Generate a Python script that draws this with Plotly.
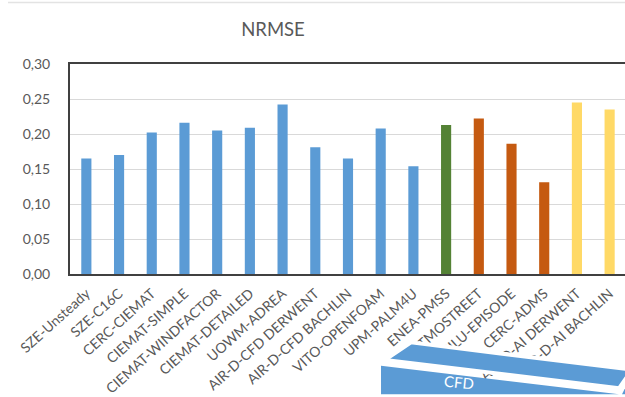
import plotly.graph_objects as go

# Model names and their NRMSE scores
models = [
    "SZE-Unsteady", "SZE-C16C", "CERC-CIEMAT", "CIEMAT-SIMPLE",
    "CIEMAT-WINDFACTOR", "CIEMAT-DETAILED", "UOWM-ADREA",
    "AIR-D-CFD DERWENT", "AIR-D-CFD BACHLIN", "VITO-OPENFOAM",
    "UPM-PALM4U", "ENEA-PMSS", "ATMOSTREET", "NILU-EPISODE",
    "CERC-ADMS", "AIR-D-AI DERWENT", "AIR-D-AI BACHLIN",
]
nrmse = [
    0.165, 0.170, 0.202, 0.216, 0.205, 0.209, 0.242, 0.181, 0.165,
    0.208, 0.154, 0.213, 0.222, 0.186, 0.131, 0.245, 0.235,
]
# model family for each bar: CFD, Lagrangian, street/Gaussian, AI
families = ["cfd"] * 11 + ["lagr"] + ["gauss"] * 3 + ["ai"] * 2
family_colors = {
    "cfd": "#5b9bd5",
    "lagr": "#548235",
    "gauss": "#c55a11",
    "ai": "#ffd966",
}
y_ticks = [0.00, 0.05, 0.10, 0.15, 0.20, 0.25, 0.30]

W, H = 625, 397
L, R, T, B = 70, 0, 64, 118
PW, PH = W - L - R, H - T - B


def px(x, y):
    """Pixel position on the page -> paper coordinates."""
    return (x - L) / PW, (H - B - y) / PH


def poly(points, color, line_color="rgba(0,0,0,0)", line_width=0):
    coords = [px(x, y) for x, y in points]
    d = "M " + " L ".join(f"{a:.4f},{b:.4f}" for a, b in coords) + " Z"
    return dict(type="path", xref="paper", yref="paper", path=d,
                fillcolor=color, line=dict(color=line_color, width=line_width),
                layer="above")


fig = go.Figure(
    go.Bar(
        x=list(range(len(models))),
        y=nrmse,
        marker=dict(color=[family_colors[f] for f in families], line_width=0),
        hoverinfo="skip",
    )
)

gray = "#595959"
font_family = "Lato, 'Open Sans', sans-serif"

fig.update_layout(
    width=W,
    height=H,
    margin=dict(l=L, r=R, t=T, b=B, pad=0),
    paper_bgcolor="white",
    plot_bgcolor="white",
    separators=", ",
    bargap=0.69,
    showlegend=False,
    font=dict(family=font_family, color=gray),
    title=dict(
        text="NRMSE",
        x=273 / W, xref="container", xanchor="center",
        y=1 - 30 / H, yref="container", yanchor="middle",
        font=dict(size=18.5, color=gray, family=font_family),
    ),
    xaxis=dict(
        range=[-0.5, 16.47],
        tickmode="array",
        tickvals=list(range(len(models))),
        ticktext=models,
        tickangle=-42,
        tickfont=dict(size=14, color=gray),
        ticklabelstandoff=4,
        showgrid=False,
        showline=True,
        linecolor="#404040",
        linewidth=2,
        mirror=True,
        ticks="",
        zeroline=False,
    ),
    yaxis=dict(
        range=[0, 0.30],
        tickmode="array",
        tickvals=y_ticks,
        tickformat=".2f",
        tickfont=dict(size=14, color=gray),
        showgrid=True,
        gridcolor="#d9d9d9",
        gridwidth=1,
        showline=True,
        linecolor="#404040",
        linewidth=2,
        ticks="",
        ticklabelstandoff=15,
        zeroline=False,
    ),
)

# faint outline of the chart frame along the top
x0, y0 = px(8, 1)
x1, _ = px(625, 1)
fig.add_shape(type="line", xref="paper", yref="paper", x0=x0, y0=y0, x1=x1, y1=y0,
              line=dict(color="#e3e3e3", width=1.5), layer="above")

# 3D "CFD" banner in the lower right corner: top face, front face, right face
banner = "#5b9bd5"
fig.add_shape(poly([(385, 367), (411, 349), (632, 377), (619, 396)], banner,
                   "white", 4))
fig.add_shape(poly([(381, 373), (619, 402), (381, 402)], banner))
fig.add_shape(poly([(632, 382), (632, 402), (622, 402)], banner))

bx, by = px(441, 390)
fig.add_annotation(
    text="CFD", xref="paper", yref="paper", x=bx, y=by,
    xanchor="left", yanchor="middle", showarrow=False, textangle=6,
    font=dict(size=15, color="white", family=font_family),
)

fig.write_html("out.html")
